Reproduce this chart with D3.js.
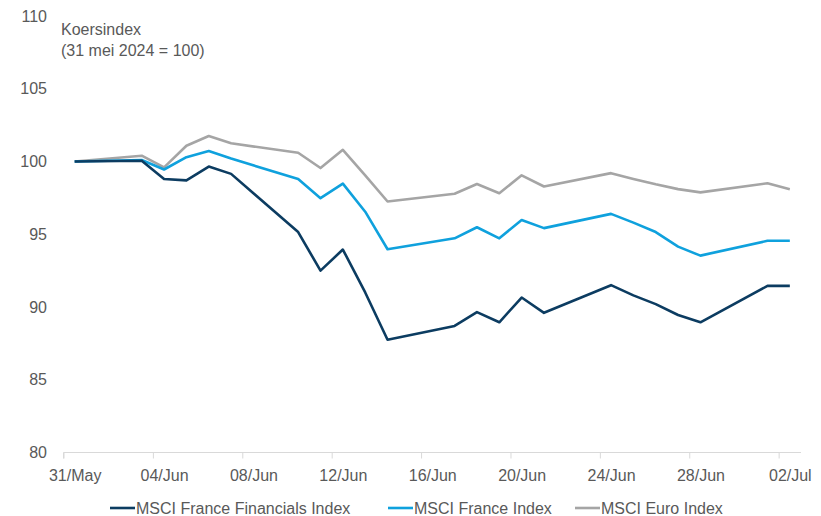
<!DOCTYPE html>
<html>
<head>
<meta charset="utf-8">
<script src="https://cdn.jsdelivr.net/npm/d3@7"></script>
<style>
  html, body { margin: 0; padding: 0; background: #fff; }
  svg { display: block; font-family: "Liberation Sans", Arial, sans-serif; }
</style>
</head>
<body>
<svg id="chart" width="821" height="516"></svg>
<script>
// Trading days (2024) and index levels, rebased to 31 May 2024 = 100
const dates = [
  "2024-05-31", "2024-06-03", "2024-06-04", "2024-06-05", "2024-06-06", "2024-06-07",
  "2024-06-10", "2024-06-11", "2024-06-12", "2024-06-13", "2024-06-14",
  "2024-06-17", "2024-06-18", "2024-06-19", "2024-06-20", "2024-06-21",
  "2024-06-24", "2024-06-25", "2024-06-26", "2024-06-27", "2024-06-28",
  "2024-07-01", "2024-07-02"
];
const franceFinancials = [
  100, 100.05, 98.8, 98.7, 99.65, 99.15,
  95.15, 92.5, 93.95, 91.0, 87.75,
  88.7, 89.65, 88.95, 90.65, 89.6,
  91.5, 90.8, 90.2, 89.45, 88.95,
  91.45, 91.45
];
const franceIndex = [
  100, 100.1, 99.45, 100.3, 100.72, 100.2,
  98.8, 97.48, 98.48, 96.55, 93.97,
  94.72, 95.48, 94.72, 95.98, 95.42,
  96.4, 95.8, 95.15, 94.15, 93.53,
  94.55, 94.55
];
const euroIndex = [
  100, 100.4, 99.6, 101.08, 101.75, 101.25,
  100.6, 99.55, 100.8, 99.05, 97.25,
  97.78, 98.45, 97.82, 99.05, 98.28,
  99.2, 98.8, 98.43, 98.1, 97.88,
  98.5, 98.1
];
const seriesNames = ["MSCI France Financials Index", "MSCI France Index", "MSCI Euro Index"];
const seriesColors = ["#0c3c61", "#0fa1dd", "#a5a5a5"];
const yTicks = [80, 85, 90, 95, 100, 105, 110];
const xTickDates = ["2024-05-31", "2024-06-04", "2024-06-08", "2024-06-12", "2024-06-16",
                    "2024-06-20", "2024-06-24", "2024-06-28", "2024-07-02"];
const titleLines = ["Koersindex", "(31 mei 2024 = 100)"];

const parse = d3.utcParse("%Y-%m-%d");
const fmtTick = d3.utcFormat("%d/%b");
const DAY = 864e5;

const svg = d3.select("#chart");
const textColor = "#595959";
const fontSize = 16;

// Each calendar day is one slot; a date is drawn at the middle of its slot
const x = d3.scaleUtc()
  .domain([parse("2024-05-31"), parse("2024-07-03")])
  .range([63.5, 801]);
const xMid = d => x(new Date(d.getTime() + DAY / 2));

const y = d3.scaleLinear().domain([80, 110]).range([452.5, 16]);

// y axis labels (no axis line)
const yAxis = d3.axisLeft(y).tickValues(yTicks).tickSize(0).tickPadding(0);
const gy = svg.append("g").attr("transform", "translate(47,0)").call(yAxis);
gy.select(".domain").remove();
gy.selectAll("text")
  .attr("fill", textColor)
  .style("font-size", fontSize + "px")
  .style("font-family", "Liberation Sans, Arial, sans-serif");

// x axis: ticks at the start of each labelled day, labels centred on the day
const xAxis = d3.axisBottom(x)
  .tickValues(xTickDates.map(parse))
  .tickSize(6)
  .tickFormat("");
const gx = svg.append("g").attr("transform", `translate(0,${y(80)})`).call(xAxis);
gx.select(".domain").attr("stroke", "#d9d9d9").attr("d", `M${x.range()[0]},6V0H${x.range()[1]}`);
gx.selectAll(".tick line").attr("stroke", "#d9d9d9");
gx.selectAll(".tick")
  .append("text")
  .attr("x", d => xMid(d) - x(d))
  .attr("y", 28)
  .attr("text-anchor", "middle")
  .attr("fill", textColor)
  .style("font-size", fontSize + "px")
  .style("font-family", "Liberation Sans, Arial, sans-serif")
  .text(d => fmtTick(d));

// Title in the plot's top-left corner
svg.append("g").selectAll("text")
  .data(titleLines)
  .join("text")
  .attr("x", 61)
  .attr("y", (d, i) => 35 + i * 20.5)
  .attr("fill", textColor)
  .style("font-size", fontSize + "px")
  .text(d => d);

// Lines
const seriesValues = [franceFinancials, franceIndex, euroIndex];
const parsedDates = dates.map(parse);
const line = d3.line()
  .x(d => xMid(d[0]))
  .y(d => y(d[1]));

// Draw the grey series first so the financials line is on top
const order = [2, 1, 0];
svg.append("g").selectAll("path")
  .data(order)
  .join("path")
  .attr("d", i => line(parsedDates.map((d, k) => [d, seriesValues[i][k]])))
  .attr("fill", "none")
  .attr("stroke", i => seriesColors[i])
  .attr("stroke-width", 2.6)
  .attr("stroke-linejoin", "round");

// Legend
const legend = svg.append("g").attr("transform", "translate(0,508)");
const legendX = [110, 388, 575];
seriesNames.forEach((name, i) => {
  const g = legend.append("g").attr("transform", `translate(${legendX[i]},0)`);
  g.append("line")
    .attr("x1", 0).attr("x2", 25)
    .attr("y1", 0).attr("y2", 0)
    .attr("stroke", seriesColors[i])
    .attr("stroke-width", 2.6);
  g.append("text")
    .attr("x", 26)
    .attr("y", 0)
    .attr("dy", "0.35em")
    .attr("fill", textColor)
    .style("font-size", fontSize + "px")
    .text(name);
});
</script>
</body>
</html>
